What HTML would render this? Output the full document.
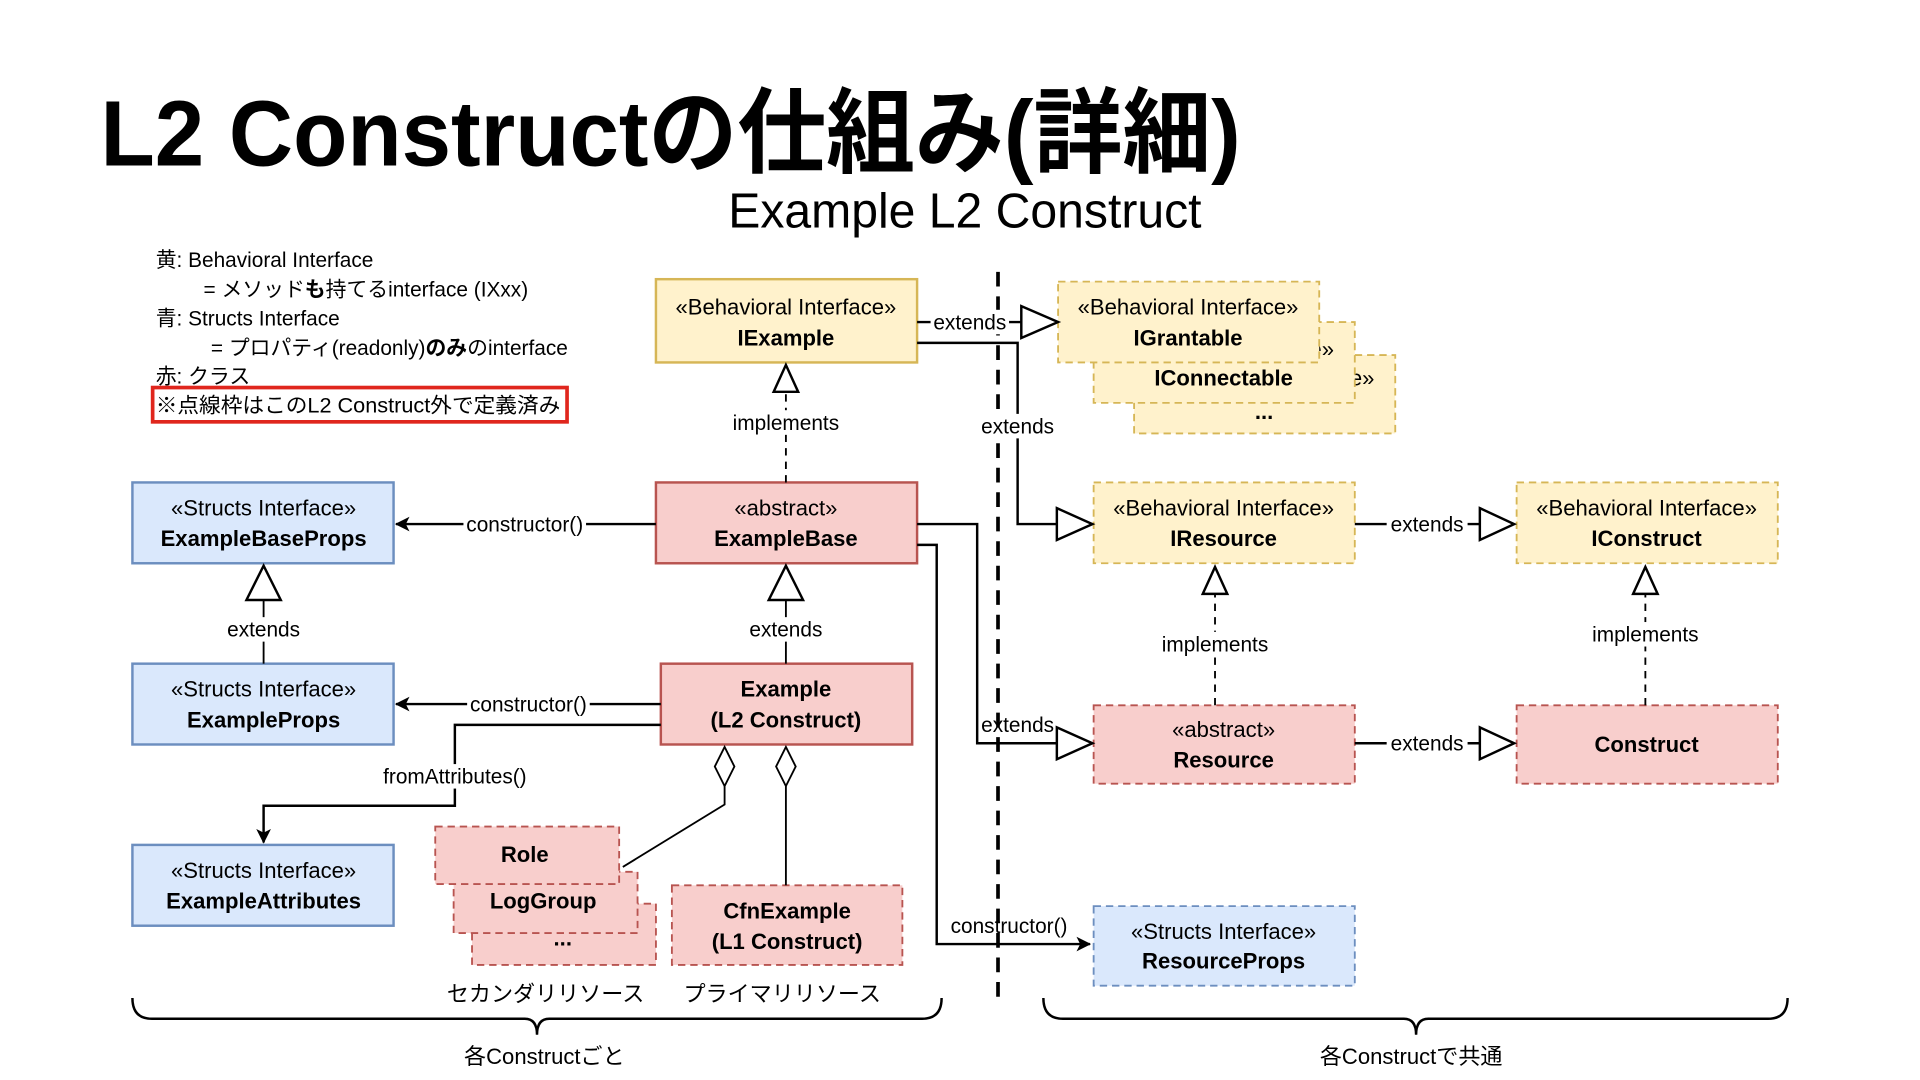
<!DOCTYPE html>
<html><head><meta charset="utf-8"><style>
html,body{margin:0;padding:0;background:#fff;}
svg{display:block;}
text{font-family:"Liberation Sans","Noto Sans CJK JP",sans-serif;fill:#000;}
.b{font-weight:bold;}
</style></head><body>
<svg width="1920" height="1080" viewBox="0 0 1566 882" preserveAspectRatio="none" xmlns="http://www.w3.org/2000/svg">
<defs>
<marker id="fa" markerWidth="12" markerHeight="12" refX="11" refY="6" orient="auto" markerUnits="userSpaceOnUse"><path d="M0,0 L12,6 L0,12 L3,6 Z" fill="#000"/></marker>
</defs>
<rect width="1566" height="882" fill="#fff"/>
<!-- title -->
<text x="82" y="135" font-size="76" font-weight="bold" textLength="930" lengthAdjust="spacingAndGlyphs">L2 Constructの仕組み(詳細)</text>
<text x="787" y="186" font-size="40" text-anchor="middle" textLength="386" lengthAdjust="spacingAndGlyphs">Example L2 Construct</text>
<!-- legend -->
<g font-size="17">
<text x="127" y="218">黄: Behavioral Interface</text>
<text x="166" y="242">= メソッド<tspan class="b">も</tspan>持てるinterface (IXxx)</text>
<text x="127" y="266">青: Structs Interface</text>
<text x="172" y="290">= プロパティ(readonly)<tspan class="b">のみ</tspan>のinterface</text>
<text x="127" y="313">赤: クラス</text>
<rect x="124.5" y="316.5" width="338" height="28" fill="none" stroke="#e0261d" stroke-width="3"/>
<text x="127" y="337" textLength="330" lengthAdjust="spacingAndGlyphs">※点線枠はこのL2 Construct外で定義済み</text>
</g>
<!-- vertical dashed -->
<line x1="814" y1="222" x2="814" y2="822" stroke="#000" stroke-width="3" stroke-dasharray="12,8"/>

<g font-size="18" text-anchor="middle">
<rect x="925" y="290" width="213" height="64" fill="#fff2cc" stroke="#d6b656" stroke-width="1.5" stroke-dasharray="6,4"/>
<text x="1031" y="315">«Behavioral Interface»</text>
<text x="1031" y="342" class="b">...</text>
<rect x="892" y="263" width="213" height="66" fill="#fff2cc" stroke="#d6b656" stroke-width="1.5" stroke-dasharray="6,4"/>
<text x="998" y="291">«Behavioral Interface»</text>
<text x="998" y="315" class="b">IConnectable</text>
<rect x="863" y="230" width="213" height="66" fill="#fff2cc" stroke="#d6b656" stroke-width="1.5" stroke-dasharray="6,4"/>
<text x="969" y="257">«Behavioral Interface»</text>
<text x="969" y="282" class="b">IGrantable</text>

<rect x="535" y="228" width="213" height="68" fill="#fff2cc" stroke="#d6b656" stroke-width="2"/>
<text x="641" y="257">«Behavioral Interface»</text>
<text x="641" y="282" class="b">IExample</text>

<rect x="535" y="394" width="213" height="66" fill="#f8cecc" stroke="#b85450" stroke-width="2"/>
<text x="641" y="421">«abstract»</text>
<text x="641" y="446" class="b">ExampleBase</text>

<rect x="108" y="394" width="213" height="66" fill="#dae8fc" stroke="#6c8ebf" stroke-width="2"/>
<text x="215" y="421">«Structs Interface»</text>
<text x="215" y="446" class="b">ExampleBaseProps</text>

<rect x="108" y="542" width="213" height="66" fill="#dae8fc" stroke="#6c8ebf" stroke-width="2"/>
<text x="215" y="569">«Structs Interface»</text>
<text x="215" y="594" class="b">ExampleProps</text>

<rect x="108" y="690" width="213" height="66" fill="#dae8fc" stroke="#6c8ebf" stroke-width="2"/>
<text x="215" y="717">«Structs Interface»</text>
<text x="215" y="742" class="b">ExampleAttributes</text>

<rect x="539" y="542" width="205" height="66" fill="#f8cecc" stroke="#b85450" stroke-width="2"/>
<text x="641" y="569" class="b">Example</text>
<text x="641" y="594" class="b">(L2 Construct)</text>

<rect x="385" y="738" width="150" height="50" fill="#f8cecc" stroke="#b85450" stroke-width="1.5" stroke-dasharray="6,4"/>
<text x="459" y="772" class="b">...</text>
<rect x="370" y="712" width="150" height="50" fill="#f8cecc" stroke="#b85450" stroke-width="1.5" stroke-dasharray="6,4"/>
<text x="443" y="742" class="b">LogGroup</text>
<rect x="355" y="675" width="150" height="47" fill="#f8cecc" stroke="#b85450" stroke-width="1.5" stroke-dasharray="6,4"/>
<text x="428" y="704" class="b">Role</text>

<rect x="548" y="723" width="188" height="65" fill="#f8cecc" stroke="#b85450" stroke-width="1.5" stroke-dasharray="6,4"/>
<text x="642" y="750" class="b">CfnExample</text>
<text x="642" y="775" class="b">(L1 Construct)</text>

<rect x="892" y="394" width="213" height="66" fill="#fff2cc" stroke="#d6b656" stroke-width="1.5" stroke-dasharray="6,4"/>
<text x="998" y="421">«Behavioral Interface»</text>
<text x="998" y="446" class="b">IResource</text>
<rect x="1237" y="394" width="213" height="66" fill="#fff2cc" stroke="#d6b656" stroke-width="1.5" stroke-dasharray="6,4"/>
<text x="1343" y="421">«Behavioral Interface»</text>
<text x="1343" y="446" class="b">IConstruct</text>

<rect x="892" y="576" width="213" height="64" fill="#f8cecc" stroke="#b85450" stroke-width="1.5" stroke-dasharray="6,4"/>
<text x="998" y="602">«abstract»</text>
<text x="998" y="627" class="b">Resource</text>
<rect x="1237" y="576" width="213" height="64" fill="#f8cecc" stroke="#b85450" stroke-width="1.5" stroke-dasharray="6,4"/>
<text x="1343" y="614" class="b">Construct</text>

<rect x="892" y="740" width="213" height="65" fill="#dae8fc" stroke="#6c8ebf" stroke-width="1.5" stroke-dasharray="6,4"/>
<text x="998" y="767">«Structs Interface»</text>
<text x="998" y="791" class="b">ResourceProps</text>
</g>

<g fill="none" stroke="#000" stroke-width="2">
<path d="M748,263 H833"/>
<path d="M833,250 L863,263 L833,276 Z" fill="#fff"/>
<path d="M748,280 H830 V428 H862"/>
<path d="M862,415 L891,428 L862,441 Z" fill="#fff"/>
<path d="M748,428 H797 V607 H862"/>
<path d="M862,594 L891,607 L862,620 Z" fill="#fff"/>
<path d="M748,445 H764 V771 H889" marker-end="url(#fa)"/>
<path d="M641,394 V320" stroke-width="1.5" stroke-dasharray="6,5"/>
<path d="M631,320 L641,298 L651,320 Z" fill="#fff"/>
<path d="M535,428 H323" marker-end="url(#fa)"/>
<path d="M215,542 V490" stroke-width="1.5"/>
<path d="M201,490 L215,462 L229,490 Z" fill="#fff"/>
<path d="M641,542 V490" stroke-width="1.5"/>
<path d="M627,490 L641,462 L655,490 Z" fill="#fff"/>
<path d="M539,575 H323" marker-end="url(#fa)"/>
<path d="M539,592 H371 V658 H215 V688" marker-end="url(#fa)"/>
<path d="M591,610 L599,626 L591,642 L583,626 Z" fill="#fff" stroke-width="1.5"/>
<path d="M641,610 L649,626 L641,642 L633,626 Z" fill="#fff" stroke-width="1.5"/>
<path d="M591,642 V657 L508,708" stroke-width="1.5"/>
<path d="M641,642 V723" stroke-width="1.5"/>
<path d="M1105,428 H1207"/>
<path d="M1207,415 L1235,428 L1207,441 Z" fill="#fff"/>
<path d="M1105,607 H1207"/>
<path d="M1207,594 L1235,607 L1207,620 Z" fill="#fff"/>
<path d="M991,576 V485" stroke-width="1.5" stroke-dasharray="6,5"/>
<path d="M981,485 L991,463 L1001,485 Z" fill="#fff"/>
<path d="M1342,576 V485" stroke-width="1.5" stroke-dasharray="6,5"/>
<path d="M1332,485 L1342,463 L1352,485 Z" fill="#fff"/>
<path d="M108,815 Q108,832 124,832 H428 Q438,832 438,845 Q438,832 448,832 H752 Q768,832 768,815"/>
<path d="M851,815 Q851,832 867,832 H1145 Q1155,832 1155,845 Q1155,832 1165,832 H1442 Q1458,832 1458,815"/>
</g>

<g font-size="17" text-anchor="middle">
<rect x="759" y="253" width="64" height="20" fill="#fff"/><text x="791" y="269">extends</text>
<rect x="798" y="338" width="64" height="20" fill="#fff"/><text x="830" y="354">extends</text>
<rect x="596" y="335" width="90" height="20" fill="#fff"/><text x="641" y="351">implements</text>
<rect x="378" y="418" width="100" height="20" fill="#fff"/><text x="428" y="434">constructor()</text>
<rect x="182" y="504" width="66" height="20" fill="#fff"/><text x="215" y="520">extends</text>
<rect x="609" y="504" width="66" height="20" fill="#fff"/><text x="641" y="520">extends</text>
<rect x="381" y="565" width="100" height="20" fill="#fff"/><text x="431" y="581">constructor()</text>
<rect x="309" y="624" width="124" height="20" fill="#fff"/><text x="371" y="640">fromAttributes()</text>
<text x="830" y="598">extends</text>
<text x="823" y="762">constructor()</text>
<rect x="1131" y="418" width="66" height="20" fill="#fff"/><text x="1164" y="434">extends</text>
<rect x="1131" y="597" width="66" height="20" fill="#fff"/><text x="1164" y="613">extends</text>
<rect x="946" y="516" width="92" height="20" fill="#fff"/><text x="991" y="532">implements</text>
<rect x="1297" y="508" width="92" height="20" fill="#fff"/><text x="1342" y="524">implements</text>
<text x="445" y="818" font-size="18">セカンダリリソース</text>
<text x="638" y="818" font-size="18">プライマリリソース</text>
<text x="444" y="869" font-size="18">各Constructごと</text>
<text x="1151" y="869" font-size="18">各Constructで共通</text>
</g>
</svg>
</body></html>
